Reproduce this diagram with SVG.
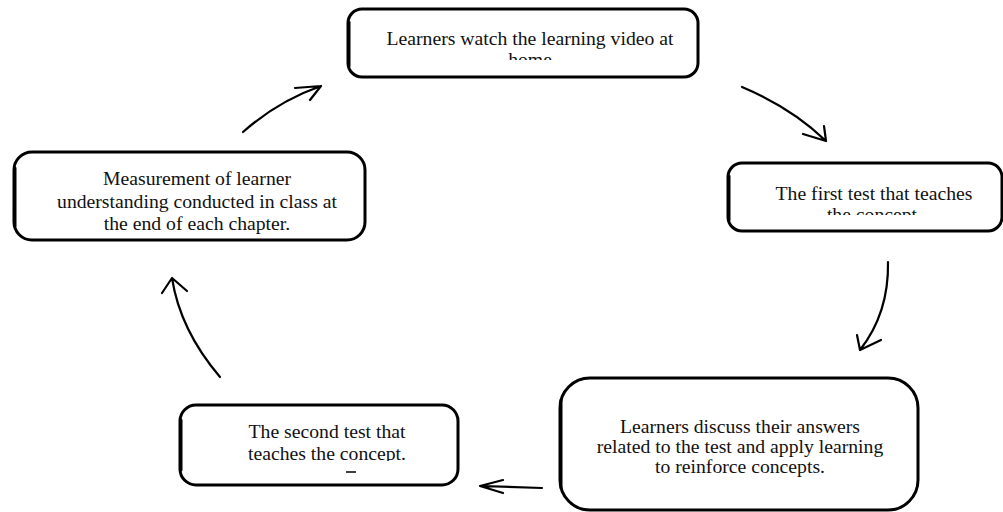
<svg xmlns="http://www.w3.org/2000/svg" width="1003" height="512" viewBox="0 0 1003 512">
<style>
.box{fill:#fff;stroke:#000;stroke-width:3}
.edge{fill:none;stroke:#000;stroke-width:3;stroke-linecap:round}
.t{font-family:"Liberation Serif","Times New Roman",serif;font-size:19.7px;fill:#111;text-anchor:middle}
.arr{fill:none;stroke:#000;stroke-width:2.2;stroke-linecap:round;stroke-linejoin:round}
</style>
<defs>
<clipPath id="c1"><rect x="348" y="9" width="350" height="51"/></clipPath>
<clipPath id="c2"><rect x="728" y="163" width="274" height="52"/></clipPath>
<clipPath id="c5"><rect x="180" y="405" width="278" height="56"/></clipPath>
</defs>
<rect width="1003" height="512" fill="#fff"/>
<g id="connectors">
<path class="arr" d="M243,132 Q278,101 321,86 M295,88 L321,86 L310,100"/>
<path class="arr" d="M742,87 Q792,108 826,141 M803,134 L826,141 L824,126"/>
<path class="arr" d="M888,262 Q889,313 860,350 M857,335 L860,350 L881,340"/>
<path class="arr" d="M542,488 L480,486 M503,480 L480,486 L503,493"/>
<path class="arr" d="M220,377 Q180,330 172,278 M162,293 L172,278 L187,291"/>
</g>
<g id="node1">
<rect class="box" x="348" y="9" width="350" height="68" rx="14"/>
<path class="edge" d="M349,22 L349,66" stroke-width="5"/>
<g clip-path="url(#c1)">
<text class="t" x="530" y="45">Learners watch the learning video at</text>
<text class="t" x="530" y="66">home</text>
</g>
</g>
<g id="node2">
<rect class="box" x="728" y="163" width="274" height="68" rx="14"/>
<path class="edge" d="M729,176 L729,220" stroke-width="5"/>
<g clip-path="url(#c2)">
<text class="t" x="874" y="200">The first test that teaches</text>
<text class="t" x="872" y="221">the concept</text>
</g>
</g>
<g id="node3">
<rect class="box" x="14" y="152" width="351" height="88" rx="18"/>
<path class="edge" d="M15,168 L15,226" stroke-width="5"/>
<text class="t" x="197" y="185">Measurement of learner</text>
<text class="t" x="197" y="208">understanding conducted in class at</text>
<text class="t" x="197" y="230">the end of each chapter.</text>
</g>
<g id="node4">
<rect class="box" x="560" y="378" width="358" height="132" rx="30"/>
<path class="edge" d="M561,400 L561,488" stroke-width="5"/>
<text class="t" x="740" y="433">Learners discuss their answers</text>
<text class="t" x="740" y="453">related to the test and apply learning</text>
<text class="t" x="740" y="473">to reinforce concepts.</text>
</g>
<g id="node5">
<rect class="box" x="180" y="405" width="278" height="80" rx="16"/>
<path class="edge" d="M181,420 L181,470" stroke-width="5"/>
<g clip-path="url(#c5)">
<text class="t" x="327" y="438">The second test that</text>
<text class="t" x="327" y="460">teaches the concept.</text>
</g>
<path d="M346,472 L356,472" stroke="#000" stroke-width="1.5"/>
</g>
</svg>
